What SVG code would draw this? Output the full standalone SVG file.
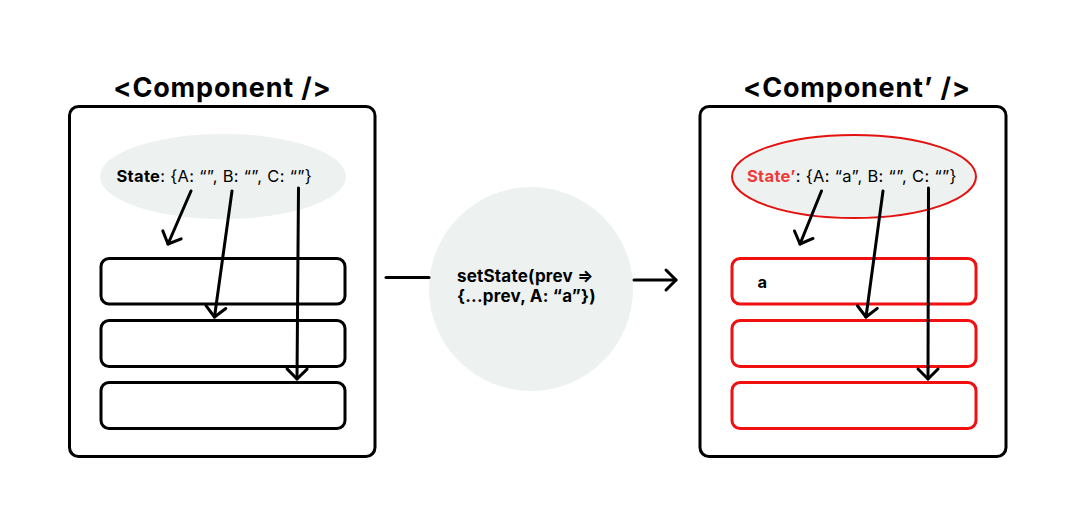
<svg xmlns="http://www.w3.org/2000/svg" width="1076" height="529" viewBox="0 0 1076 529">
<defs>
<style>
.box{fill:#fff;stroke:#000;stroke-width:3}
.row{fill:#fff;stroke:#000;stroke-width:3}
.rrow{fill:#fff;stroke:#f20f0f;stroke-width:3}
.title{font-family:Inter,"Liberation Sans",sans-serif;font-weight:700;font-size:27px;letter-spacing:0.8px;fill:#000}
.st{font-family:Inter,"Liberation Sans",sans-serif;font-size:16.5px;letter-spacing:0.3px;fill:#000}
.b{font-weight:700}
.red{fill:#f03a3a}
.con{fill:none;stroke:#000;stroke-width:3;stroke-linecap:round}
.bub{fill:#edf1f0}
</style>
<marker id="ah" markerUnits="userSpaceOnUse" markerWidth="30" markerHeight="30" viewBox="-15 -15 30 30" refX="0" refY="0" orient="auto" overflow="visible">
<path d="M-10,-10 L0,0 L-10,10" fill="none" stroke="#000" stroke-width="3" stroke-linecap="round" stroke-linejoin="round"/>
</marker>
</defs>
<rect width="1076" height="529" fill="#fff"/>

<g id="component">
<text class="title" x="222.5" y="97" text-anchor="middle">&lt;Component /&gt;</text>
<rect class="box" x="69.5" y="106.5" width="305.5" height="350" rx="9"/>
<ellipse class="bub" cx="223" cy="176.5" rx="123" ry="42.5"/>
<text class="st" x="116.5" y="182"><tspan class="b">State</tspan>: {A: “”, B: “”, C: “”}</text>
<rect class="row" x="101" y="258.5" width="244" height="45.5" rx="8"/>
<rect class="row" x="101" y="320.5" width="244" height="46" rx="8"/>
<rect class="row" x="101" y="382.5" width="244" height="46" rx="8"/>
</g>

<g id="setstate">
<circle class="bub" cx="531" cy="289" r="102"/>
<text class="st b" x="457" y="282" style="font-size:17px;letter-spacing:0.2px">setState(prev ⇒</text>
<text class="st b" x="457" y="302" style="font-size:17px;letter-spacing:0.2px">{...prev, A: “a”})</text>
</g>

<g id="component-prime">
<text class="title" x="857" y="97" text-anchor="middle">&lt;Component’ /&gt;</text>
<rect class="box" x="700" y="106.5" width="306" height="350" rx="9"/>
<ellipse class="bub" cx="854" cy="176.5" rx="122" ry="41.5" stroke="#e3120f" stroke-width="2"/>
<text class="st" x="747" y="182"><tspan class="b red">State’</tspan>: {A: “a”, B: “”, C: “”}</text>
<rect class="rrow" x="732" y="258.5" width="244" height="45.5" rx="8"/>
<text class="st b" x="757.5" y="288">a</text>
<rect class="rrow" x="732" y="320.5" width="244" height="46" rx="8"/>
<rect class="rrow" x="732" y="382.5" width="244" height="46" rx="8"/>
</g>

<g id="connectors">
<path class="con" d="M191,191 L168,244" marker-end="url(#ah)"/>
<path class="con" d="M232,191 L214.5,317" marker-end="url(#ah)"/>
<path class="con" d="M298.5,188 L297,379" marker-end="url(#ah)"/>
<path class="con" d="M386,277.5 L429,277.5"/>
<path class="con" d="M634,280 L676,280" marker-end="url(#ah)"/>
<path class="con" d="M821.5,191 L800,244" marker-end="url(#ah)"/>
<path class="con" d="M883,191 L866,317" marker-end="url(#ah)"/>
<path class="con" d="M928.5,188 L928,379" marker-end="url(#ah)"/>
</g>
</svg>
